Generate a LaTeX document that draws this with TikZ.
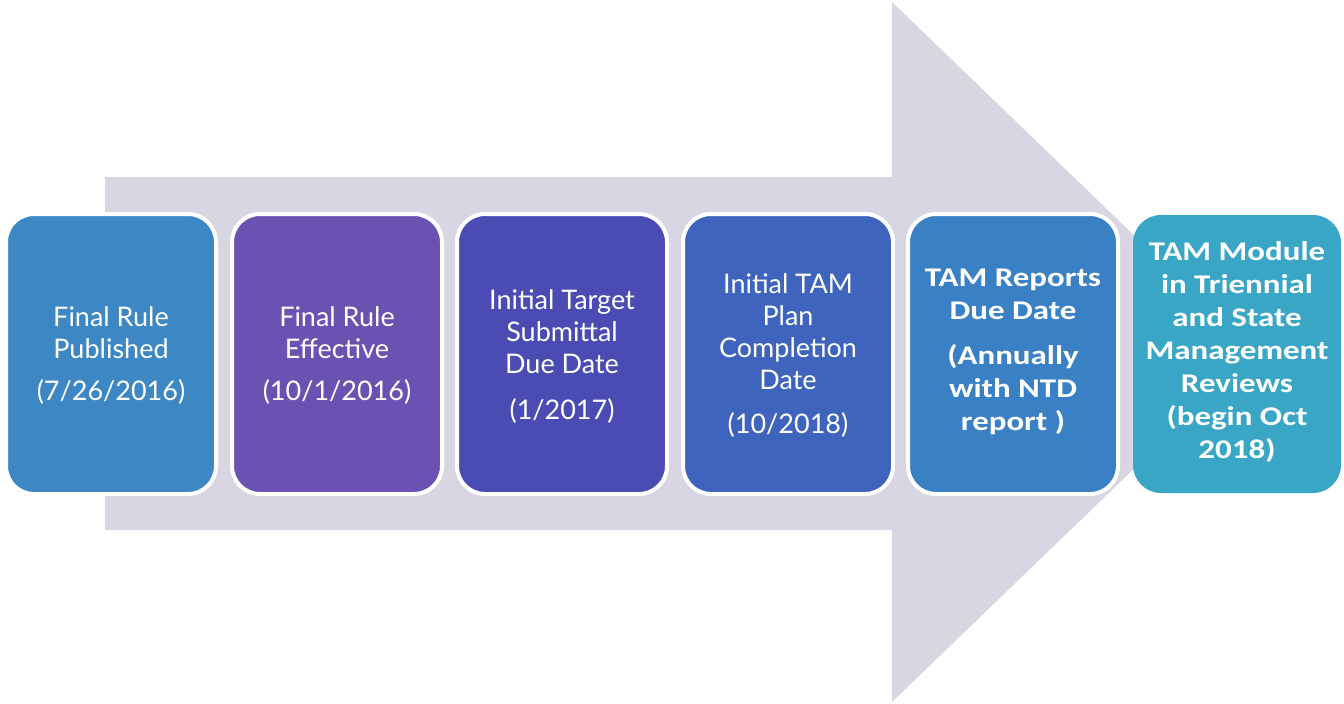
\documentclass[tikz,border=0pt]{standalone}
\usepackage{fontspec}
\setmainfont{Lato}
\newfontfamily\calfont[FakeStretch=1.22]{Carlito}
\definecolor{arrowgrey}{HTML}{D9D6E3}
\definecolor{cA}{HTML}{3D87C4}
\definecolor{cB}{HTML}{6A52B2}
\definecolor{cC}{HTML}{4A4CB4}
\definecolor{cD}{HTML}{3E64BE}
\definecolor{cE}{HTML}{3A80C4}
\definecolor{cF}{HTML}{3AA6C6}
\begin{document}
\begin{tikzpicture}[x=1pt,y=-1pt,
  stagebox/.style={rounded corners=28pt, draw=white, line width=4pt,
    minimum width=210pt, minimum height=280pt, inner sep=0pt,
    text=white, align=center},
  gillfont/.style={font=\fontsize{27}{32}\selectfont, text=white, align=center},
  calfnt/.style={font=\calfont\bfseries\fontsize{27}{33}\selectfont, text=white, align=center}]
\useasboundingbox (0,0) rectangle (1344,704);
\fill[white] (0,0) rectangle (1344,704);
% big arrow
\fill[arrowgrey] (105,177) -- (892,177) -- (892,2) -- (1255,352) -- (892,702) -- (892,530) -- (105,530) -- cycle;
% boxes
\node[stagebox, fill=cA] (b1) at (111,354) {};
\node[stagebox, fill=cB] (b2) at (337,354) {};
\node[stagebox, fill=cC] (b3) at (562,354) {};
\node[stagebox, fill=cD] (b4) at (788,354) {};
\node[stagebox, fill=cE] (b5) at (1013,354) {};
\node[stagebox, fill=cF, draw=none, minimum width=208pt, minimum height=278pt] (b6) at (1237,354) {};
% texts
\node[gillfont] (t1) at (111,356) {Final Rule\\Published\\[10pt](7/26/2016)};
\node[gillfont] (t2) at (337,356) {Final Rule\\Effective\\[10pt](10/1/2016)};
\node[gillfont] (t3) at (562,357) {Initial Target\\Submittal\\Due Date\\[14pt](1/2017)};
\node[gillfont] (t4) at (788,356) {Initial TAM\\Plan\\Completion\\Date\\[12pt](10/2018)};
\node[calfnt] (t5) at (1013,352) {TAM Reports\\Due Date\\[12pt](Annually\\with NTD\\report )};
\node[calfnt] (t6) at (1237,352) {TAM Module\\in Triennial\\and State\\Management\\Reviews\\(begin Oct\\2018)};
\end{tikzpicture}
\end{document}
